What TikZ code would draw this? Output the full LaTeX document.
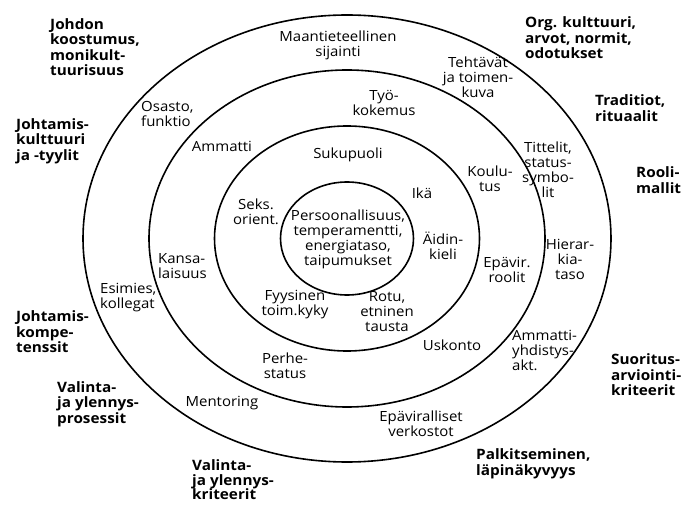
\documentclass[tikz,border=0pt]{standalone}
\usepackage{fontspec}
\setmainfont{Open Sans}[FakeStretch=1.07]
\begin{document}
\begin{tikzpicture}[x=1pt,y=-1pt,
  ring/.style={line width=1.6pt},
  lbl/.style={font=\fontsize{14}{15}\selectfont, align=center, inner sep=0pt},
  lbll/.style={lbl, align=left, anchor=west},
  blbl/.style={font=\bfseries\fontsize{14.3}{15.5}\selectfont, align=left, inner sep=0pt, anchor=west}]
\useasboundingbox[fill=white] (0,0) rectangle (686,505);
\coordinate (c) at (347,238.5);
% rings
\draw[ring] (c) ellipse [x radius=264, y radius=223.5];
\draw[ring] (c) ellipse [x radius=198, y radius=168.5];
\draw[ring] (c) ellipse [x radius=132.5, y radius=112.5];
\draw[ring] (c) ellipse [x radius=66.5, y radius=56.5];
% centre
\node[lbl] (pers) at (348,239) {Persoonallisuus,\\temperamentti,\\energiataso,\\taipumukset};
% third ring
\node[lbl] (suku) at (348,155) {Sukupuoli};
\node[lbl] (ika) at (422,193) {Ikä};
\node[lbl] (seks) at (256,212) {Seks.\\orient.};
\node[lbl] (aidin) at (443,246) {Äidin-\\kieli};
\node[lbl] (fyys) at (295,305) {Fyysinen\\toim.kyky};
\node[lbl] (rotu) at (387,312) {Rotu,\\etninen\\tausta};
% second ring
\node[lbl] (tyo) at (384,103) {Työ-\\kokemus};
\node[lbl] (amm) at (222,146) {Ammatti};
\node[lbl] (koulu) at (490,179) {Koulu-\\tus};
\node[lbl] (epav) at (507,270) {Epävir.\\roolit};
\node[lbl] (usk) at (452,345) {Uskonto};
\node[lbl] (perhe) at (285,366) {Perhe-\\status};
\node[lbll] (kansa) at (158,266) {Kansa-\\laisuus};
% first ring
\node[lbl] (maan) at (338,45) {Maantieteellinen\\sijainti};
\node[lbl] (teht) at (478,77) {Tehtävät\\ja toimen-\\kuva};
\node[lbll] (osasto) at (141,114) {Osasto,\\funktio};
\node[lbl] (titt) at (548,170) {Tittelit,\\status-\\symbo-\\lit};
\node[lbl] (hier) at (570,259) {Hierar-\\kia-\\taso};
\node[lbll] (ammy) at (512,350) {Ammatti-\\yhdistys-\\akt.};
\node[lbl] (epavv) at (421,424) {Epäviralliset\\verkostot};
\node[lbl] (ment) at (222,403) {Mentoring};
\node[lbll] (esim) at (100,298) {Esimies,\\kollegat};
% outside
\node[blbl] (johdon) at (50,47) {Johdon\\koostumus,\\monikult-\\tuurisuus};
\node[blbl] (jkult) at (16,141) {Johtamis-\\kulttuuri\\ja -tyylit};
\node[blbl] (org) at (525,38) {Org. kulttuuri,\\arvot, normit,\\odotukset};
\node[blbl] (trad) at (595,108) {Traditiot,\\rituaalit};
\node[blbl] (rooli) at (636,180) {Rooli-\\mallit};
\node[blbl] (jkomp) at (16,332) {Johtamis-\\kompe-\\tenssit};
\node[blbl] (valp) at (57,404) {Valinta-\\ja ylennys-\\prosessit};
\node[blbl, font=\bfseries\fontsize{14.3}{14.5}\selectfont] (valk) at (192,480) {Valinta-\\ja ylennys-\\kriteerit};
\node[blbl] (palk) at (476,464) {Palkitseminen,\\läpinäkyvyys};
\node[blbl] (suor) at (611,375) {Suoritus-\\arviointi-\\kriteerit};
\end{tikzpicture}
\end{document}
